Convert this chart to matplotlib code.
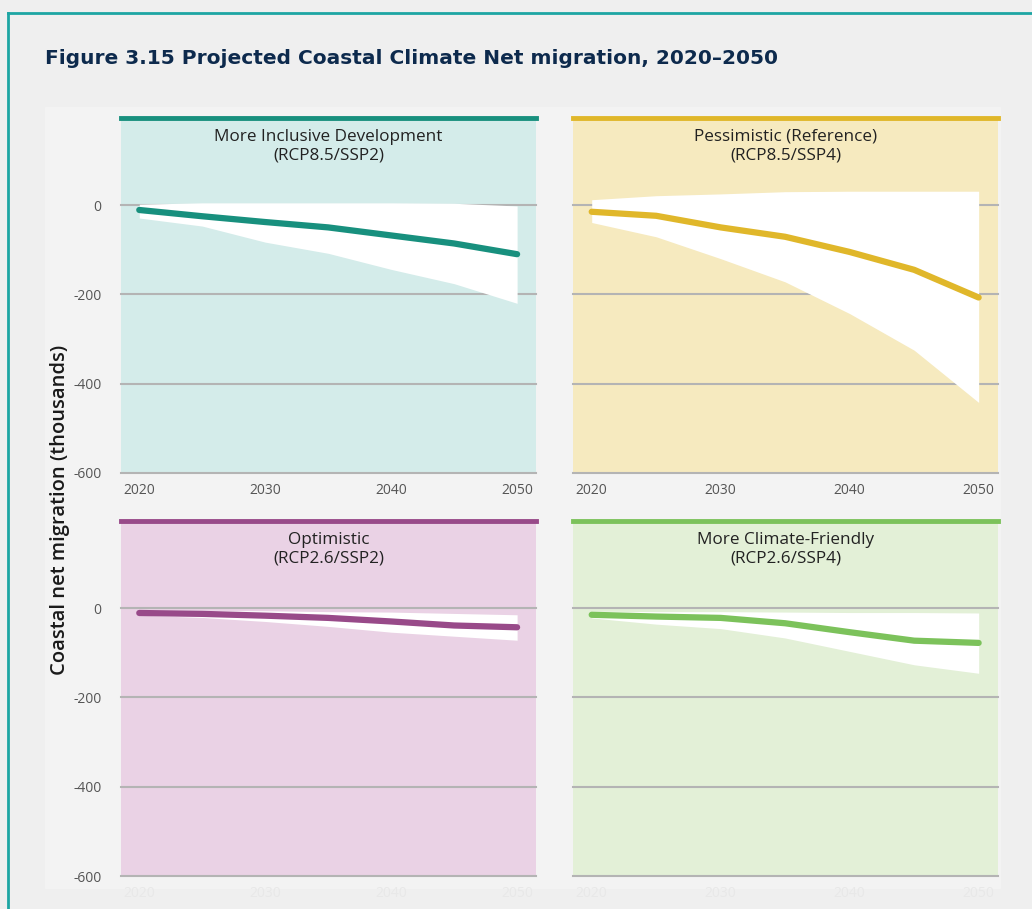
import numpy as np
import matplotlib.pyplot as plt
from matplotlib.patches import Rectangle
from matplotlib.lines import Line2D

plt.rcParams["axes.unicode_minus"] = False

years = [2020, 2025, 2030, 2035, 2040, 2045, 2050]

titles = ["More Inclusive Development\n(RCP8.5/SSP2)",
          "Pessimistic (Reference)\n(RCP8.5/SSP4)",
          "Optimistic\n(RCP2.6/SSP2)",
          "More Climate-Friendly\n(RCP2.6/SSP4)"]

# central projection (thousands)
incl_mid = [-11, -25, -38, -50, -68, -86, -110]
pess_mid = [-15, -24, -50, -71, -105, -145, -207]
opti_mid = [-11, -13, -17, -22, -30, -39, -43]
clim_mid = [-15, -19, -22, -34, -54, -73, -78]

# uncertainty range
incl_hi = [2, 5, 5, 5, 5, 4, -2]
incl_lo = [-29, -47, -83, -108, -144, -176, -220]
pess_hi = [12, 21, 25, 30, 31, 31, 31]
pess_lo = [-39, -71, -120, -172, -243, -325, -442]
opti_hi = [-4, -5, -6, -8, -9, -12, -15]
opti_lo = [-16, -21, -30, -41, -54, -63, -72]
clim_hi = [-7, -8, -8, -9, -10, -10, -11]
clim_lo = [-22, -36, -46, -67, -97, -127, -146]

xticks = [2020, 2030, 2040, 2050]
yticks = [0, -200, -400, -600]

mids = [incl_mid, pess_mid, opti_mid, clim_mid]
his = [incl_hi, pess_hi, opti_hi, clim_hi]
los = [incl_lo, pess_lo, opti_lo, clim_lo]
line_cols = ["#18907e", "#e0b72a", "#984a89", "#7cc25b"]
bg_cols = ["#d4ecea", "#f6eabf", "#ead2e5", "#e3f0d7"]

W, H = 1032, 909
fig = plt.figure(figsize=(W / 100, H / 100), dpi=100)
fig.patch.set_facecolor("#efefef")

# lighter inner area and teal frame
fig.add_artist(Rectangle((45 / W, 1 - 888 / H), 955 / W, 781 / H,
                         transform=fig.transFigure, color="#f3f3f3", zorder=0))
fig.add_artist(Line2D([8 / W, 1], [1 - 13 / H, 1 - 13 / H], transform=fig.transFigure,
                      color="#1da5a3", lw=2))
fig.add_artist(Line2D([8 / W, 8 / W], [0, 1 - 13 / H], transform=fig.transFigure,
                      color="#1da5a3", lw=2))

fig.text(45 / W, 1 - 58 / H, "Figure 3.15 Projected Coastal Climate Net migration, 2020\u20132050",
         fontsize=14.5, fontweight="heavy", color="#0d2a4d", va="center", ha="left",
         family="DejaVu Sans")

fig.text(60 / W, 1 - 510 / H, "Coastal net migration (thousands)", rotation=90,
         fontsize=14.5, fontweight="semibold", color="#1a1a1a", ha="center", va="center",
         family="Open Sans")

lefts = [121, 573]
widths = [415, 425]
tops = [118, 521]
ph = 355

for i in range(4):
    r, c = divmod(i, 2)
    l = lefts[c]
    t = tops[r]
    ax = fig.add_axes([l / W, 1 - (t + ph) / H, widths[c] / W, ph / H])
    ax.set_facecolor(bg_cols[i])
    ax.set_xlim(2018.55, 2051.5)
    ax.set_ylim(-600, 195)
    for y in yticks:
        ax.axhline(y, color="#b4b4b4", lw=1.5, zorder=1, clip_on=False)
    ax.fill_between(years, los[i], his[i], color="white", lw=0, zorder=2)
    ax.plot(years, mids[i], color=line_cols[i], lw=4.5, solid_capstyle="round",
            solid_joinstyle="round", zorder=3)
    for s in ["left", "right", "bottom"]:
        ax.spines[s].set_visible(False)
    ax.spines["top"].set_color(line_cols[i])
    ax.spines["top"].set_linewidth(3.5)
    ax.text(0.5, 0.97, titles[i], transform=ax.transAxes, ha="center", va="top",
            fontsize=12.3, color="#222222", family="Open Sans", linespacing=1.2)
    ax.set_xticks(xticks)
    ax.set_yticks(yticks)
    ax.tick_params(length=0, labelsize=10, colors="#555555", pad=7)
    for lab in ax.get_xticklabels() + ax.get_yticklabels():
        lab.set_family("Open Sans")
    if c == 1:
        ax.set_yticklabels([])
    else:
        ax.tick_params(axis="y", pad=14)
    if r == 1:
        ax.tick_params(axis="x", colors="#e8e8e8")

fig.savefig("out.png", dpi=100, facecolor=fig.get_facecolor())
